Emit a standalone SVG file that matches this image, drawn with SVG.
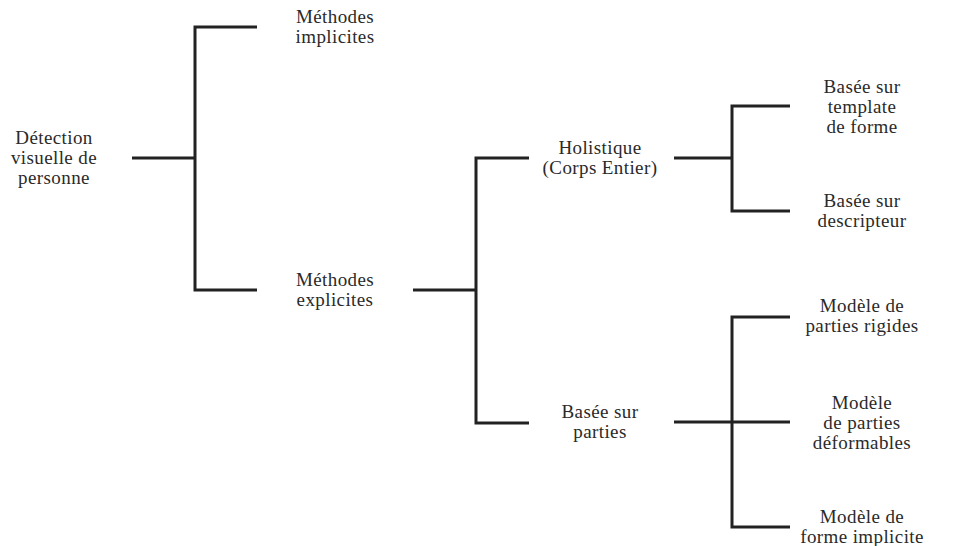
<svg xmlns="http://www.w3.org/2000/svg" width="963" height="546" viewBox="0 0 963 546">
<style>
text{font-family:"Liberation Serif","Times New Roman",serif;font-size:19px;fill:#2a2a2a;text-anchor:middle;letter-spacing:0.4px}
.c{fill:none;stroke:#222;stroke-width:3;stroke-linecap:butt;stroke-linejoin:miter}
</style>
<rect width="963" height="546" fill="#fff"/>
<g id="connectors">
<path class="c" d="M132,158H195M257,27H195V290H257"/>
<path class="c" d="M413,290H476M529,158H476V423H529"/>
<path class="c" d="M674,158H732M790,106H732V211H790"/>
<path class="c" d="M674,422H732M790,317H732V527H790M732,422H790"/>
</g>
<g id="n-root"><text x="54" y="144">Détection</text><text x="54" y="164">visuelle de</text><text x="54" y="184">personne</text></g>
<g id="n-impl"><text x="335" y="23">Méthodes</text><text x="335" y="43">implicites</text></g>
<g id="n-expl"><text x="335" y="286">Méthodes</text><text x="335" y="306">explicites</text></g>
<g id="n-holi"><text x="600" y="154">Holistique</text><text x="600" y="174">(Corps Entier)</text></g>
<g id="n-parties"><text x="600" y="418">Basée sur</text><text x="600" y="438">parties</text></g>
<g id="n-template"><text x="862" y="93">Basée sur</text><text x="862" y="113">template</text><text x="862" y="133">de forme</text></g>
<g id="n-desc"><text x="862" y="207">Basée sur</text><text x="862" y="227">descripteur</text></g>
<g id="n-rigid"><text x="862" y="312">Modèle de</text><text x="862" y="332">parties rigides</text></g>
<g id="n-deform"><text x="862" y="409">Modèle</text><text x="862" y="429">de parties</text><text x="862" y="449">déformables</text></g>
<g id="n-implicit"><text x="862" y="523">Modèle de</text><text x="862" y="543">forme implicite</text></g>
</svg>
